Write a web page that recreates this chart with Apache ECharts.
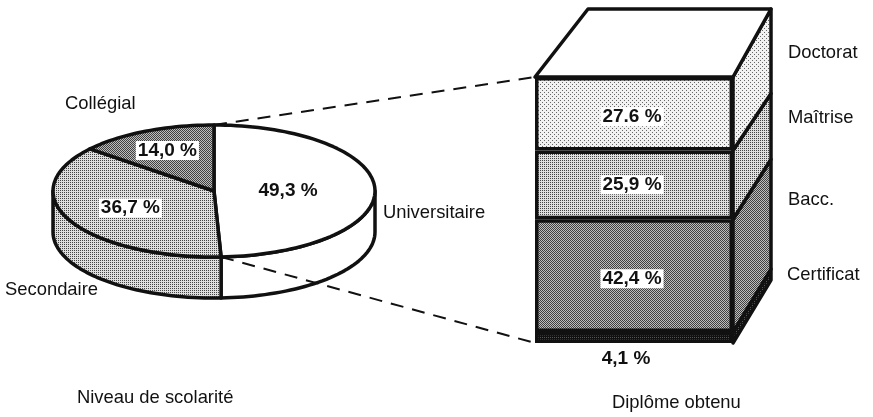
<!DOCTYPE html>
<html><head><meta charset="utf-8">
<style>html,body{margin:0;padding:0;background:#fff}#c{width:873px;height:417px}</style>
<script src="https://cdn.jsdelivr.net/npm/echarts@6/dist/echarts.min.js"></script>
</head><body><div id="c"></div>
<script>
// ---- data ----
const pieNames = ['Universitaire', 'Secondaire', 'Collégial'];
const pieValues = [49.3, 36.7, 14.0];
const pieLabels = ['49,3 %', '36,7 %', '14,0 %'];
const barNames = ['Certificat', 'Bacc.', 'Maîtrise', 'Doctorat'];
const barValues = [4.1, 42.4, 25.9, 27.6];
const barLabels = ['4,1 %', '42,4 %', '25,9 %', '27.6 %'];
const axisTitles = ['Niveau de scolarité', 'Diplôme obtenu'];

// ---- drawing parameters ----
const INK = '#111';
const FONT = '"Liberation Sans", Arial, sans-serif';
const PIE = {cx: 214, cy: 191, rx: 161, ry: 66, depth: 41};
const pieLabelRadius = [0.46, 0.58, 0.68];
const boxSkewRight = 38, boxSkewLeft = 53;
const sideRise = [63, 63, 60, 57, 68]; // rise of the back edge at each stack boundary

function pattern(size, cells, fg, bg) {
  const c = document.createElement('canvas');
  c.width = c.height = size;
  const g = c.getContext('2d');
  g.fillStyle = bg; g.fillRect(0, 0, size, size);
  g.fillStyle = fg;
  cells.forEach(p => g.fillRect(p[0], p[1], 1, 1));
  return {image: c, repeat: 'repeat'};
}
const solidWhite = '#fff';
const pLight = pattern(4, [[0,0],[2,2]], '#666', '#f2f2f2');
const pMedium = pattern(2, [[0,0]], '#444', '#dedede');
const pDark = pattern(2, [[0,0],[1,1]], '#404040', '#bdbdbd');
const pNear = pattern(2, [[0,0],[1,1],[1,0]], '#111', '#555');
const pieFills = [solidWhite, pMedium, pDark];
const barFills = [pNear, pDark, pMedium, pLight];

const rad = d => d * Math.PI / 180;
const piePoint = (deg, dy) => [
  PIE.cx + PIE.rx * Math.sin(rad(deg)),
  PIE.cy - PIE.ry * Math.cos(rad(deg)) + (dy || 0)
];
const total = pieValues.reduce((a, b) => a + b, 0);
function sliceRange(i) {
  const before = pieValues.slice(0, i).reduce((a, b) => a + b, 0);
  return [before / total * 360, (before + pieValues[i]) / total * 360];
}
function arc(a, b, dy) {
  const pts = [], n = Math.max(2, Math.ceil(Math.abs(b - a) / 2));
  for (let k = 0; k <= n; k++) pts.push(piePoint(a + (b - a) * k / n, dy));
  return pts;
}

function renderPie(params, api) {
  const i = params.dataIndex, r = sliceRange(i), children = [];
  const lineStyle = {stroke: INK, lineWidth: 3.5, lineJoin: 'round'};
  const wa = Math.max(r[0], 90), wb = Math.min(r[1], 270);
  if (wb > wa) {
    const pts = arc(wa, wb, 0).concat(arc(wb, wa, PIE.depth));
    children.push({type: 'polygon', shape: {points: pts},
      style: Object.assign({fill: pieFills[i]}, lineStyle)});
  }
  const top = [[PIE.cx, PIE.cy]].concat(arc(r[0], r[1], 0));
  children.push({type: 'polygon', shape: {points: top},
    style: Object.assign({fill: pieFills[i]}, lineStyle)});
  return {type: 'group', children};
}
function renderPieLabel(params, api) {
  const i = params.dataIndex, r = sliceRange(i), m = (r[0] + r[1]) / 2;
  const f = pieLabelRadius[i];
  const x = PIE.cx + PIE.rx * f * Math.sin(rad(m));
  const y = PIE.cy - PIE.ry * f * Math.cos(rad(m));
  return {type: 'text', style: {text: pieLabels[i], x, y, align: 'center', verticalAlign: 'middle',
    fill: INK, font: 'bold 19px ' + FONT, backgroundColor: i === 0 ? 'transparent' : '#fff', padding: [0, 2]}};
}

function renderSide(params, api) {
  const lo = api.value(1), hi = api.value(2), i = params.dataIndex;
  const half = api.size([1, 0])[0] / 2;
  const a = api.coord([0, lo]), b = api.coord([0, hi]);
  const x = a[0] + half;
  return {type: 'polygon', shape: {points: [
    [x, a[1]], [x + boxSkewRight, a[1] - sideRise[i]],
    [x + boxSkewRight, b[1] - sideRise[i + 1]], [x, b[1]]
  ]}, style: {fill: barFills[i], stroke: INK, lineWidth: 3.5, lineJoin: 'round'}};
}
function renderTop(params, api) {
  const half = api.size([1, 0])[0] / 2, c = api.coord([0, api.value(0)]);
  const rise = sideRise[sideRise.length - 1];
  return {type: 'polygon', shape: {points: [
    [c[0] - half, c[1]], [c[0] + half, c[1]],
    [c[0] + half + boxSkewRight, c[1] - rise], [c[0] - half + boxSkewLeft, c[1] - rise]
  ]}, style: {fill: '#fff', stroke: INK, lineWidth: 3.5, lineJoin: 'round'}};
}
function renderLeader(params, api) {
  const half = api.size([1, 0])[0] / 2, c = api.coord([0, api.value(1)]);
  const p = piePoint(api.value(0));
  return {type: 'line', shape: {x1: p[0], y1: p[1], x2: c[0] - half, y2: c[1]},
    style: {stroke: INK, lineWidth: 2, lineDash: [13, 9]}};
}

let cum = 0;
const sideData = barValues.map(v => { const row = [0, cum, cum + v]; cum += v; return row; });
const boxTotal = cum;

const barSeries = barValues.map((v, i) => ({
  type: 'bar', stack: 'box', name: barNames[i], barWidth: '100%', data: [v], z: 3,
  itemStyle: {color: barFills[i], borderColor: INK, borderWidth: 3.5},
  label: {show: true, formatter: barLabels[i], position: i === 0 ? 'bottom' : 'inside',
    offset: i === 0 ? [-8, 1] : [-2, i === 2 ? 0 : 3],
    fontFamily: FONT, fontWeight: 'bold', fontSize: 19, color: INK,
    backgroundColor: i === 0 ? 'transparent' : '#fff', padding: [0, 2]},
  animation: false
}));

const text = (t, x, y, extra) => ({type: 'text', x, y, style: Object.assign(
  {text: t, fill: INK, font: '18.4px ' + FONT, verticalAlign: 'middle'}, extra || {})});

const chart = echarts.init(document.getElementById('c'), null, {renderer: 'canvas'});
chart.setOption({
  animation: false,
  backgroundColor: '#fff',
  tooltip: {show: false},
  grid: {left: 535, width: 198, top: 77, height: 266},
  xAxis: {type: 'category', data: ['Diplôme'], show: false},
  yAxis: {type: 'value', min: 0, max: boxTotal, show: false},
  series: [
    {type: 'custom', coordinateSystem: 'none', data: pieValues.map(v => [v]), renderItem: renderPie, z: 1, silent: true},
    {type: 'custom', coordinateSystem: 'cartesian2d', data: sideData, renderItem: renderSide, z: 2, silent: true,
      encode: {x: 0, y: [1, 2]}},
    {type: 'custom', coordinateSystem: 'cartesian2d', data: [[boxTotal]], renderItem: renderTop, z: 2, silent: true,
      encode: {y: 0}},
    ...barSeries,
    {type: 'custom', coordinateSystem: 'cartesian2d',
      data: [[sliceRange(0)[0], boxTotal], [sliceRange(0)[1], 0]],
      renderItem: renderLeader, z: 4, silent: true, encode: {y: 1}},
    {type: 'custom', coordinateSystem: 'none', data: pieValues.map(v => [v]), renderItem: renderPieLabel, z: 5, silent: true}
  ],
  graphic: [
    text(pieNames[2], 65, 104),
    text(pieNames[0], 383, 213),
    text(pieNames[1], 5, 290),
    text(barNames[3], 788, 53),
    text(barNames[2], 788, 118),
    text(barNames[1], 788, 200),
    text(barNames[0], 787, 275),
    text(axisTitles[0], 77, 398),
    text(axisTitles[1], 612, 403)
  ]
});
</script></body></html>
